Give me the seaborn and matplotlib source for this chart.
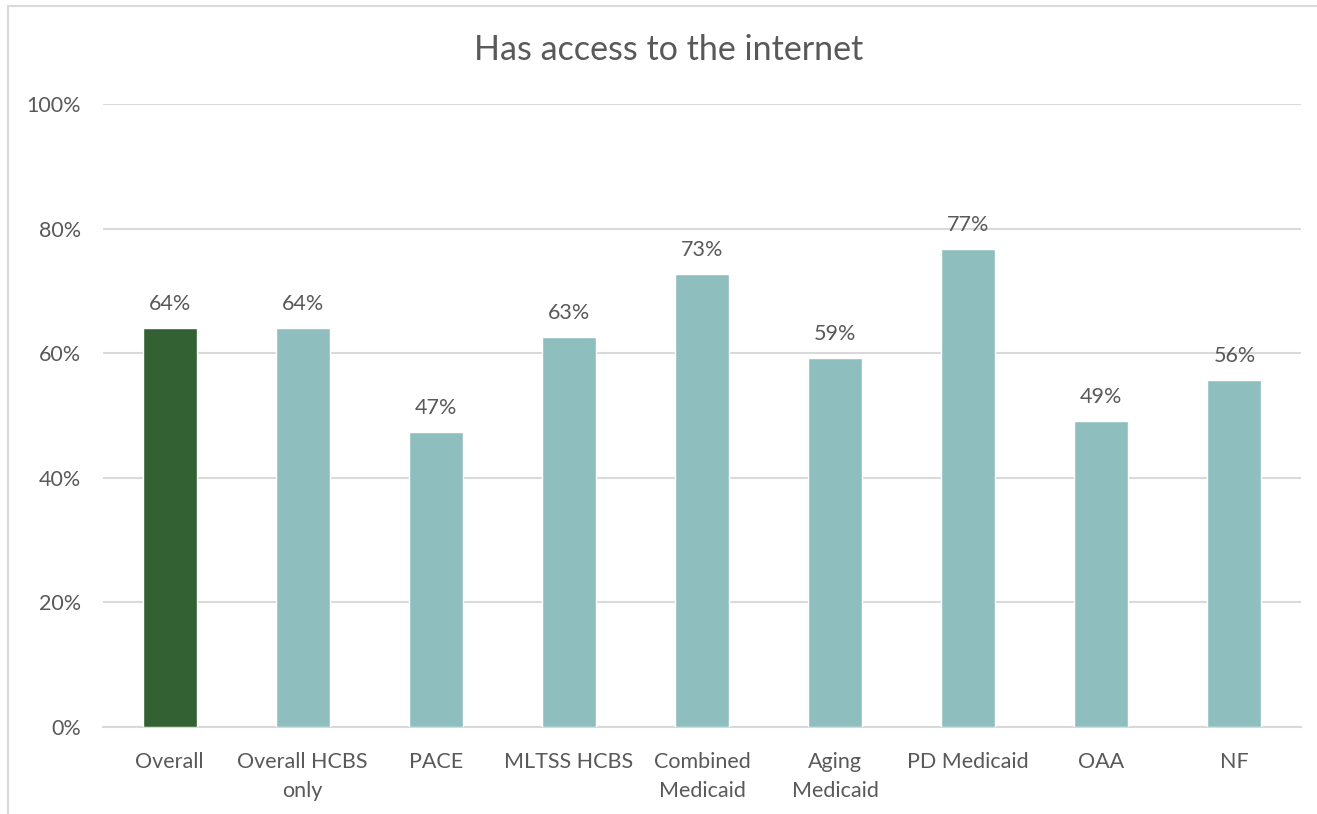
import matplotlib
matplotlib.use("Agg")
import matplotlib.pyplot as plt
import seaborn as sns
import pandas as pd
from matplotlib.patches import Rectangle

categories = ["Overall", "Overall HCBS\nonly", "PACE", "MLTSS HCBS", "Combined\nMedicaid",
              "Aging\nMedicaid", "PD Medicaid", "OAA", "NF"]
values = [64.1, 64.1, 47.4, 62.6, 72.7, 59.2, 76.7, 49.1, 55.7]
bar_colors = ["#336133"] + ["#8FBEBE"] * 8

df = pd.DataFrame({"group": categories, "pct": values})

sns.set_style("white")
plt.rcParams["font.family"] = ["Lato", "DejaVu Sans"]
text_color = "#595959"

fig = plt.figure(figsize=(13.17, 8.14), dpi=100)
ax = fig.add_axes([103 / 1317, 1 - 727 / 814, 1198 / 1317, 623 / 814])

sns.barplot(data=df, x="group", y="pct", hue="group", palette=bar_colors,
            width=0.405, legend=False, saturation=1, ax=ax, zorder=3)

ax.set_ylim(0, 100)
ax.set_yticks(range(0, 101, 20))
ax.set_yticklabels([f"{t}%" for t in range(0, 101, 20)])
ax.yaxis.grid(True, color="#D9D9D9", linewidth=1.5, zorder=0)
ax.set_axisbelow(True)
for s in ["top", "right", "left"]:
    ax.spines[s].set_visible(False)
ax.spines["bottom"].set_color("#D9D9D9")
ax.spines["bottom"].set_linewidth(1.5)
ax.tick_params(axis="both", length=0, labelsize=15.5, labelcolor=text_color)
ax.tick_params(axis="y", pad=16)
ax.tick_params(axis="x", pad=18)
for lbl in ax.get_xticklabels():
    lbl.set_linespacing(1.55)
ax.set_xlabel("")
ax.set_ylabel("")

for i, v in enumerate(values):
    ax.text(i, v + 2.2, f"{round(v)}%", ha="center", va="bottom",
            fontsize=15.5, color=text_color)

fig.text(669 / 1317, 1 - 50 / 814, "Has access to the internet", ha="center", va="center",
         fontsize=24.5, color=text_color)

fig.patches.append(Rectangle((8 / 1317, -0.01), 1.02, 1 - 6 / 814 + 0.01,
                             transform=fig.transFigure, fill=False,
                             edgecolor="#D9D9D9", linewidth=1.5))

fig.savefig("out.png", dpi=100)
